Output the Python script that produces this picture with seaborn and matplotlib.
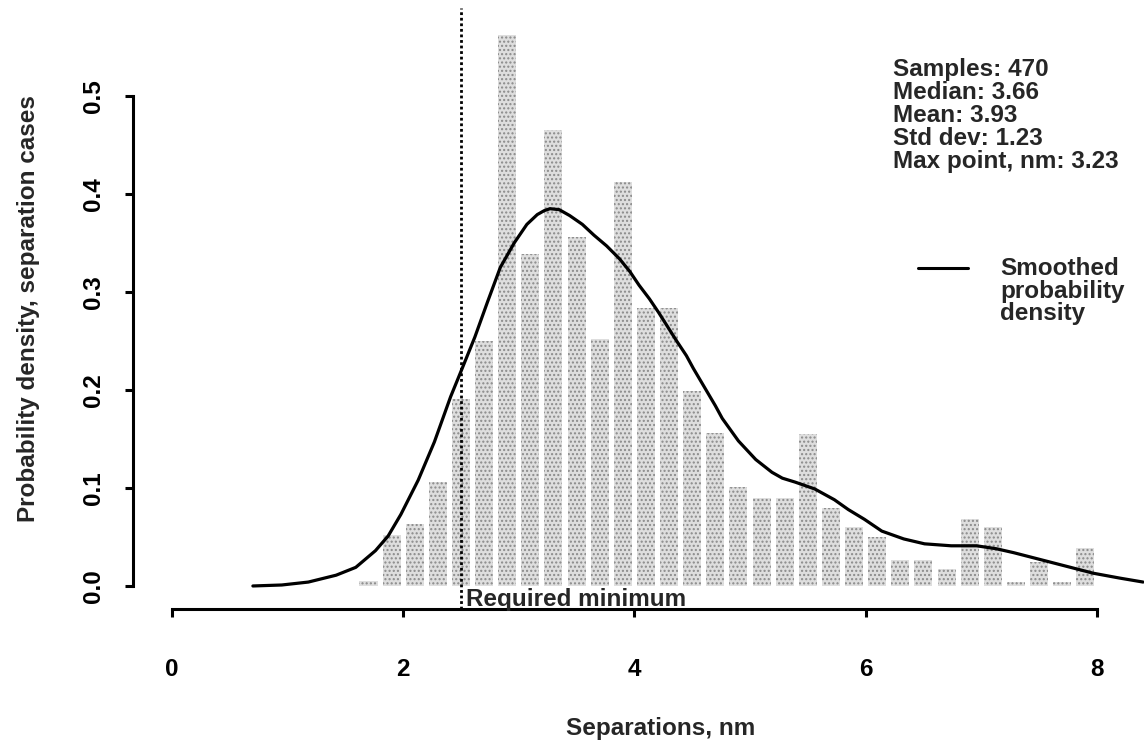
import numpy as np
import pandas as pd
import matplotlib
matplotlib.use("Agg")
import matplotlib.pyplot as plt
from matplotlib.lines import Line2D
import seaborn as sns

# Histogram of separations: bin centres (nm) and probability density per bin
bin_centers = [1.7, 1.9, 2.1, 2.3, 2.5, 2.7, 2.9, 3.1, 3.3, 3.5, 3.7, 3.9,
               4.1, 4.3, 4.5, 4.7, 4.9, 5.1, 5.3, 5.5, 5.7, 5.9, 6.1, 6.3,
               6.5, 6.7, 6.9, 7.1, 7.3, 7.5, 7.7, 7.9]
bin_density = [0.005, 0.052, 0.063, 0.106, 0.191, 0.250, 0.562, 0.339,
               0.465, 0.356, 0.252, 0.412, 0.284, 0.284, 0.199, 0.156,
               0.101, 0.090, 0.090, 0.155, 0.080, 0.060, 0.050, 0.026,
               0.026, 0.017, 0.068, 0.060, 0.004, 0.024, 0.004, 0.039]

# Smoothed probability density curve
curve_x = [0.70, 0.95, 1.18, 1.42, 1.59, 1.76, 1.87, 1.98, 2.13, 2.27, 2.41,
           2.50, 2.62, 2.73, 2.84, 2.96, 3.07, 3.16, 3.22, 3.27, 3.35, 3.44,
           3.55, 3.65, 3.76, 3.87, 3.96, 4.04, 4.13, 4.21, 4.36, 4.45, 4.51,
           4.62, 4.70, 4.76, 4.90, 5.05, 5.19, 5.28, 5.39, 5.56, 5.73, 5.85,
           5.99, 6.14, 6.33, 6.51, 6.74, 6.96, 7.13, 7.28, 7.51, 7.74, 7.97,
           8.20, 8.40]
curve_y = [0.000, 0.001, 0.004, 0.011, 0.019, 0.036, 0.051, 0.073, 0.108,
           0.147, 0.193, 0.219, 0.254, 0.290, 0.325, 0.350, 0.369, 0.379,
           0.383, 0.385, 0.384, 0.378, 0.369, 0.358, 0.347, 0.334, 0.321,
           0.307, 0.293, 0.279, 0.251, 0.235, 0.222, 0.200, 0.184, 0.171,
           0.148, 0.129, 0.116, 0.110, 0.106, 0.099, 0.088, 0.078, 0.068,
           0.056, 0.048, 0.043, 0.041, 0.041, 0.038, 0.034, 0.027, 0.020,
           0.013, 0.008, 0.004]

required_minimum = 2.5

x_ticks = [0, 2, 4, 6, 8]
x_tick_labels = ["0", "2", "4", "6", "8"]
y_ticks = [0.0, 0.1, 0.2, 0.3, 0.4, 0.5]
y_tick_labels = ["0.0", "0.1", "0.2", "0.3", "0.4", "0.5"]

stats_lines = ["Samples: 470", "Median: 3.66", "Mean: 3.93",
               "Std dev: 1.23", "Max point, nm: 3.23"]
legend_label = "Smoothed\nprobability\ndensity"

hist_df = pd.DataFrame({"separation": bin_centers, "density": bin_density})

sns.set_style("ticks")
plt.rcParams["font.family"] = ["Liberation Sans", "DejaVu Sans"]
plt.rcParams["font.weight"] = "bold"
plt.rcParams["hatch.linewidth"] = 1.0
plt.rcParams["hatch.color"] = "#8a8a8a"

FS = 17.5
W, H = 1144, 740
fig = plt.figure(figsize=(W / 100, H / 100), dpi=100)
# plot region in pixels: x 133..1190, y 8..609 (top-down)
ax = fig.add_axes([133 / W, 1 - 609 / H, (1190 - 133) / W, (609 - 8) / H])
ax.set_facecolor("none")

edges = [round(1.6 + 0.2 * i, 2) for i in range(33)]
sns.histplot(data=hist_df, x="separation", weights="density", bins=edges,
             stat="count", shrink=0.78, color="#dedede", alpha=1,
             linewidth=0, edgecolor="#8a8a8a", hatch="....", ax=ax)

sns.lineplot(x=curve_x, y=curve_y, color="black", linewidth=2.3, ax=ax,
             solid_joinstyle="round", solid_capstyle="round")

ax.axvline(required_minimum, color="black", linewidth=2.0,
           linestyle=(0, (1.0, 1.0)))
ax.text(required_minimum + 0.04, -0.0205, "Required minimum",
        fontsize=FS, fontweight="bold", ha="left", va="baseline")

ax.set_xlim(-0.337, 8.806)
ax.set_ylim(-0.0235, 0.5898)

ax.set_xticks(x_ticks)
ax.set_xticklabels(x_tick_labels)
ax.set_yticks(y_ticks)
ax.set_yticklabels(y_tick_labels, rotation=90, va="center")

for side in ("top", "right"):
    ax.spines[side].set_visible(False)
ax.spines["left"].set_bounds(0, 0.5)
ax.spines["bottom"].set_bounds(0, 8)
for side in ("left", "bottom"):
    ax.spines[side].set_linewidth(2.2)
    ax.spines[side].set_color("black")

ax.tick_params(axis="both", direction="out", length=6, width=2.2,
               labelsize=FS, colors="black")
ax.tick_params(axis="x", pad=29)
ax.tick_params(axis="y", pad=14)

ax.set_xlabel("Separations, nm", fontsize=FS, fontweight="bold")
ax.set_ylabel("Probability density, separation cases", fontsize=FS,
              fontweight="bold")
ax.xaxis.set_label_coords(0.4995, -0.18)
ax.yaxis.set_label_coords(-0.088, 0.5)

fig.text(893 / W, 1 - 58 / H, "\n".join(stats_lines), fontsize=FS,
         fontweight="bold", ha="left", va="top", linespacing=1.0)

fig.add_artist(Line2D([918 / W, 968 / W], [1 - 268 / H, 1 - 268 / H],
                      color="black", linewidth=2.2,
                      transform=fig.transFigure))
fig.text(1000 / W, 1 - 257 / H, legend_label, fontsize=FS,
         fontweight="bold", ha="left", va="top", linespacing=0.98)

fig.savefig("out.png", dpi=100)
